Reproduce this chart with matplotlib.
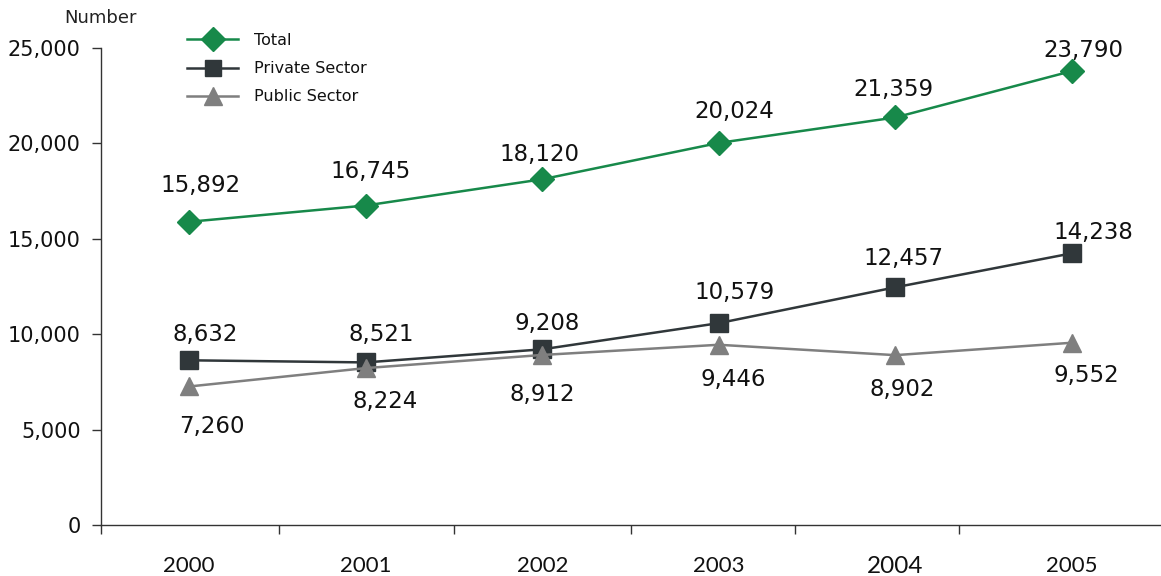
import matplotlib
matplotlib.use("Agg")
import matplotlib.pyplot as plt
from matplotlib.ticker import FixedLocator, FuncFormatter

years = ["2000", "2001", "2002", "2003", "2004", "2005"]
total = [15892, 16745, 18120, 20024, 21359, 23790]
private = [8632, 8521, 9208, 10579, 12457, 14238]
public = [7260, 8224, 8912, 9446, 8902, 9552]

GREEN = "#17894a"
DARK = "#30373a"
GRAY = "#7f7f7f"

fig = plt.figure(figsize=(11.61, 5.76), dpi=100)
ax = fig.add_axes([101 / 1161, 1 - 525 / 576, 1059 / 1161, 477 / 576])

x = list(range(len(years)))
ax.plot(x, total, color=GREEN, lw=1.8, marker="D", ms=12.5, label="Total", zorder=3)
ax.plot(x, private, color=DARK, lw=1.8, marker="s", ms=12.5, label="Private Sector", zorder=3)
ax.plot(x, public, color=GRAY, lw=1.8, marker="^", ms=13, label="Public Sector", zorder=3)

px = 0.72  # points per pixel
tot_off = [(11, 36), (5, 34), (-3, 25), (16, 31), (-2, 28), (12, 21)]
pri_off = [(16, 26), (16, 28), (5, 26), (16, 31), (8, 29), (22, 21)]
pub_off = [(23, -40), (19, -33), (0, -40), (15, -35), (7, -34), (15, -33)]
for series, offs in ((total, tot_off), (private, pri_off), (public, pub_off)):
    for i, v in enumerate(series):
        dx, dy = offs[i]
        ax.annotate(f"{v:,}", (i, v), xytext=(dx * px, dy * px),
                    textcoords="offset points", ha="center", va="center",
                    fontsize=16.5, color="#111111", family="DejaVu Sans")

ax.set_xlim(-0.5, 5.5)
ax.set_ylim(0, 25000)
ax.set_yticks(range(0, 25001, 5000))
ax.yaxis.set_major_formatter(FuncFormatter(lambda v, p: f"{int(v):,}"))
ax.tick_params(axis="y", direction="out", length=6.5, width=1, pad=8,
               labelsize=15, colors="#333333", labelcolor="#111111")

ax.set_xticks(x)
ax.set_xticklabels(years)
ax.tick_params(axis="x", which="major", length=0, pad=22)
for lab in ax.get_xticklabels():
    lab.set_family("Lato")
    lab.set_fontsize(16)
    lab.set_color("#111111")
    if lab.get_text() == "2004":
        lab.set_fontsize(17.5)
ax.xaxis.set_minor_locator(FixedLocator([-0.5, 0.508, 1.5, 2.5, 3.43, 4.36]))
ax.tick_params(axis="x", which="minor", direction="out", length=6.5, width=1, colors="#333333")

for s in ("top", "right"):
    ax.spines[s].set_visible(False)
for s in ("left", "bottom"):
    ax.spines[s].set_color("#333333")
    ax.spines[s].set_linewidth(1)

fig.text(100 / 1161, 1 - 18 / 576, "Number", ha="center", va="center",
         fontsize=13, color="#222222")

leg = ax.legend(loc="upper left", bbox_to_anchor=(187 / 1161, 1 - 33 / 576),
                bbox_transform=fig.transFigure, frameon=False, fontsize=11.5,
                handlelength=3.2, handletextpad=1.0, labelspacing=0.82,
                borderpad=0, borderaxespad=0, markerscale=0.95)
for t in leg.get_texts():
    t.set_color("#111111")

fig.savefig("out.png", dpi=100)
